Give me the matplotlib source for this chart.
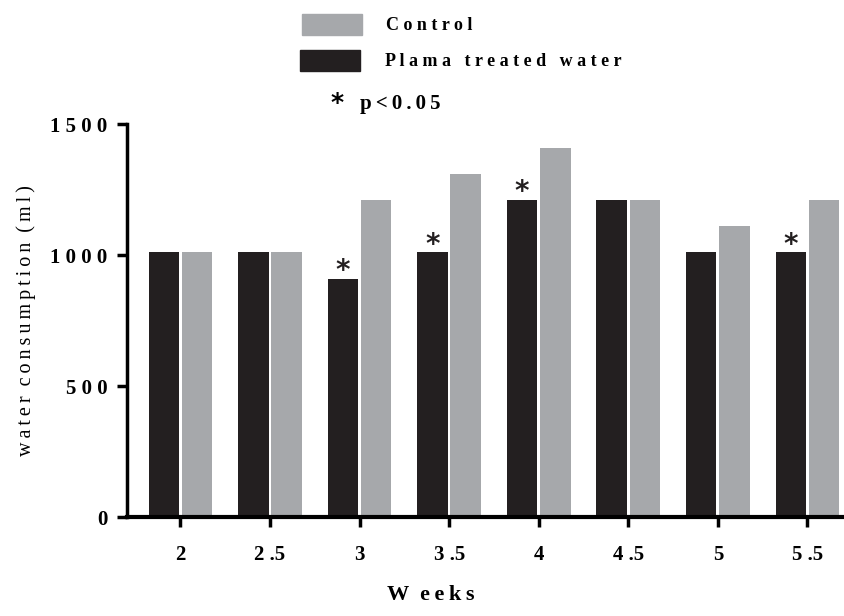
import matplotlib
matplotlib.use("Agg")
import matplotlib.pyplot as plt
import numpy as np
from matplotlib.patches import Rectangle

weeks = ["2", "2.5", "3", "3.5", "4", "4.5", "5", "5.5"]
plasma = [1010, 1010, 910, 1010, 1210, 1210, 1010, 1010]
control = [1010, 1010, 1210, 1310, 1410, 1210, 1110, 1210]
significant = [False, False, True, True, True, False, False, True]
yticks = [0, 500, 1000, 1500]

black = "#231f20"
gray = "#a6a8ab"
font = ["Liberation Serif", "DejaVu Sans"]
THIN = "\u2009"


def spaced(s, gap=" ", word="   "):
    return word.join(gap.join(wd) for wd in s.split(" "))


fig = plt.figure(figsize=(8.45, 6.16), dpi=100)
ax = fig.add_axes([0.150, 0.1607, 0.85, 0.638])

x = np.arange(len(weeks))
w = 0.34
ax.bar(x - w / 2 - 0.015, plasma, width=w, color=black, linewidth=0)
ax.bar(x + w / 2 + 0.015, control, width=w, color=gray, linewidth=0)

for xi, h, s in zip(x, plasma, significant):
    if s:
        ax.text(xi - w / 2 - 0.015, h + 30, "*", ha="center", va="center",
                fontsize=20, fontweight="bold", family="DejaVu Sans", color=black)

ax.set_xlim(-0.6, 7.42)
ax.set_ylim(0, 1500)
ax.set_yticks(yticks)
ax.set_yticklabels([spaced(str(v), gap=" ") for v in yticks])
ax.set_xticks(x)
ax.set_xticklabels([wk.replace(".", " .") for wk in weeks])
for sp in ["top", "right"]:
    ax.spines[sp].set_visible(False)
ax.spines["left"].set_linewidth(2.5)
ax.spines["bottom"].set_linewidth(3)
ax.spines["left"].set_bounds(0, 1500)
ax.tick_params(axis="y", length=7, width=2.5, direction="out", pad=7)
ax.tick_params(axis="x", length=7, width=2.5, direction="out", pad=13)
for lab in ax.get_xticklabels() + ax.get_yticklabels():
    lab.set_fontfamily(font)
    lab.set_fontweight("bold")
    lab.set_fontsize(15)

ax.set_ylabel(spaced("water consumption (ml)", gap=THIN, word="  "),
              fontfamily=font, fontsize=14.5, labelpad=10)
fig.text(0.510, 0.018, "W  " + spaced("eeks", gap=THIN), ha="center", va="bottom",
         fontfamily=font, fontweight="bold", fontsize=16)

# legend
fig.patches.append(Rectangle((302 / 845, 1 - 35 / 616), 60 / 845, 21 / 616,
                             transform=fig.transFigure, color=gray))
fig.patches.append(Rectangle((300 / 845, 1 - 71 / 616), 60 / 845, 21 / 616,
                             transform=fig.transFigure, color=black))
fig.text(386 / 845, 1 - 25 / 616, spaced("Control"), ha="left", va="center",
         fontfamily=font, fontweight="bold", fontsize=13)
fig.text(385 / 845, 1 - 61 / 616, spaced("Plama treated water"), ha="left", va="center",
         fontfamily=font, fontweight="bold", fontsize=13)
fig.text(337 / 845, 1 - 103 / 616, "*", ha="center", va="center",
         fontfamily="DejaVu Sans", fontweight="bold", fontsize=18)
fig.text(360 / 845, 1 - 104 / 616, spaced("p<0.05", gap=THIN), ha="left", va="center",
         fontfamily=font, fontweight="bold", fontsize=15)

fig.savefig("out.png", dpi=100)
